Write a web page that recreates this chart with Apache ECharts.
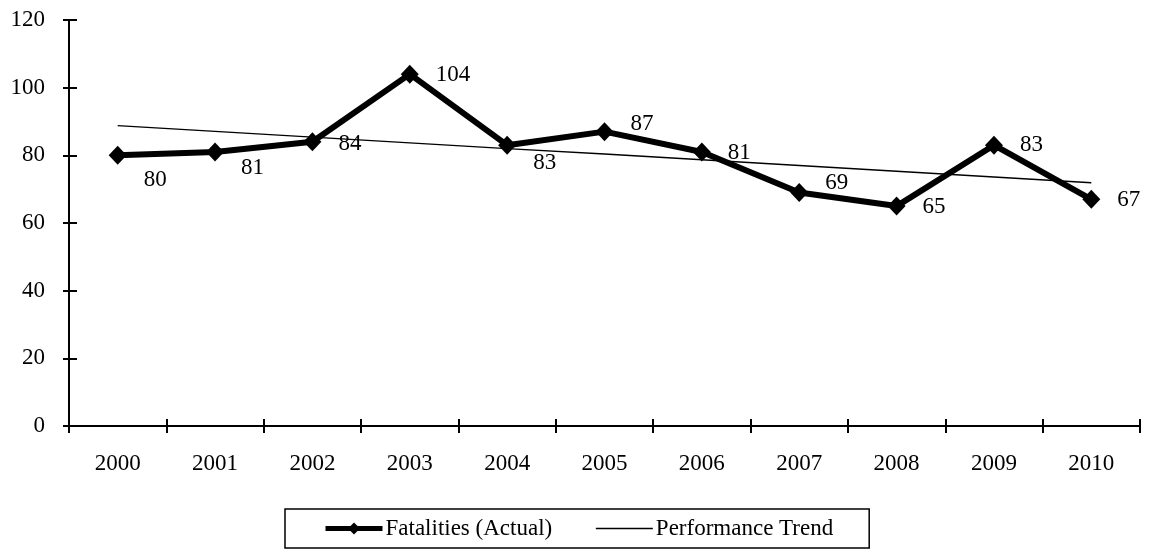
<!DOCTYPE html>
<html>
<head>
<meta charset="utf-8">
<script src="https://cdn.jsdelivr.net/npm/echarts@6/dist/echarts.min.js"></script>
<style>
  html, body { margin: 0; padding: 0; background: #fff; }
  #chart { width: 1152px; height: 552px; }
</style>
</head>
<body>
<div id="chart"></div>
<script>
  // data
  const years = ['2000', '2001', '2002', '2003', '2004', '2005', '2006', '2007', '2008', '2009', '2010'];
  const fatalities = [80, 81, 84, 104, 83, 87, 81, 69, 65, 83, 67];
  const trend = [88.8, 87.1, 85.4, 83.7, 82.0, 80.4, 78.7, 77.0, 75.3, 73.6, 71.9];

  // where each value label sits relative to its point
  const labelShift = [[0, 25], [0, 16], [0, 2], [0, 1], [0, 18], [0, -8], [0, 1], [0, -10], [0, 1], [0, 0], [0, 1]];

  const font = 'Liberation Serif';
  const chart = echarts.init(document.getElementById('chart'));

  const tickStyle = { color: '#000', width: 2 };

  chart.setOption({
    animation: false,
    textStyle: { fontFamily: font, color: '#000' },
    grid: { left: 69, right: 12, top: 20, bottom: 126 },
    xAxis: [
      {
        type: 'category',
        data: years,
        boundaryGap: true,
        axisLine: { lineStyle: { color: '#000', width: 2 } },
        axisTick: { show: true, interval: 0, alignWithLabel: false, length: 7, lineStyle: tickStyle },
        axisLabel: { fontFamily: font, fontSize: 23, color: '#000', margin: 26 }
      },
      {
        // inner half of the crossing ticks
        type: 'category',
        data: years,
        position: 'bottom',
        boundaryGap: true,
        axisLine: { show: false },
        axisTick: { show: true, interval: 0, inside: true, length: 7, lineStyle: tickStyle },
        axisLabel: { show: false }
      }
    ],
    yAxis: [
      {
        type: 'value',
        min: 0,
        max: 120,
        interval: 20,
        splitLine: { show: false },
        axisLine: { show: true, lineStyle: { color: '#000', width: 2 } },
        axisTick: { show: true, length: 6, lineStyle: tickStyle },
        axisLabel: { fontFamily: font, fontSize: 23, color: '#000', margin: 24 }
      },
      {
        type: 'value',
        min: 0,
        max: 120,
        interval: 20,
        position: 'left',
        splitLine: { show: false },
        axisLine: { show: false },
        axisTick: { show: true, inside: true, length: 8, lineStyle: tickStyle },
        axisLabel: { show: false }
      }
    ],
    legend: {
      left: 285,
      top: 509,
      padding: [8, 36, 8, 38],
      borderColor: '#000',
      borderWidth: 1.5,
      itemGap: 43,
      itemWidth: 57,
      itemHeight: 15,
      textStyle: { fontFamily: font, fontSize: 23, color: '#000', padding: [0, 0, 0, -2] },
      data: [
        { name: 'Fatalities (Actual)', lineStyle: { width: 5 } },
        {
          name: 'Performance Trend',
          lineStyle: { width: 1.3 },
          itemStyle: { color: 'rgba(0,0,0,0)', borderColor: 'rgba(0,0,0,0)', borderWidth: 0 }
        }
      ]
    },
    series: [
      {
        name: 'Fatalities (Actual)',
        type: 'line',
        data: fatalities.map((v, i) => ({
          value: v,
          label: { offset: labelShift[i] }
        })),
        symbol: 'diamond',
        symbolSize: [18, 19],
        itemStyle: { color: '#000' },
        lineStyle: { color: '#000', width: 6 },
        label: {
          show: true,
          position: 'right',
          distance: 17,
          fontFamily: font,
          fontSize: 23,
          color: '#000'
        },
        z: 3
      },
      {
        name: 'Performance Trend',
        type: 'line',
        data: trend,
        symbol: 'none',
        lineStyle: { color: '#000', width: 1.3 },
        itemStyle: { color: '#000' },
        z: 2
      }
    ]
  });
</script>
</body>
</html>
